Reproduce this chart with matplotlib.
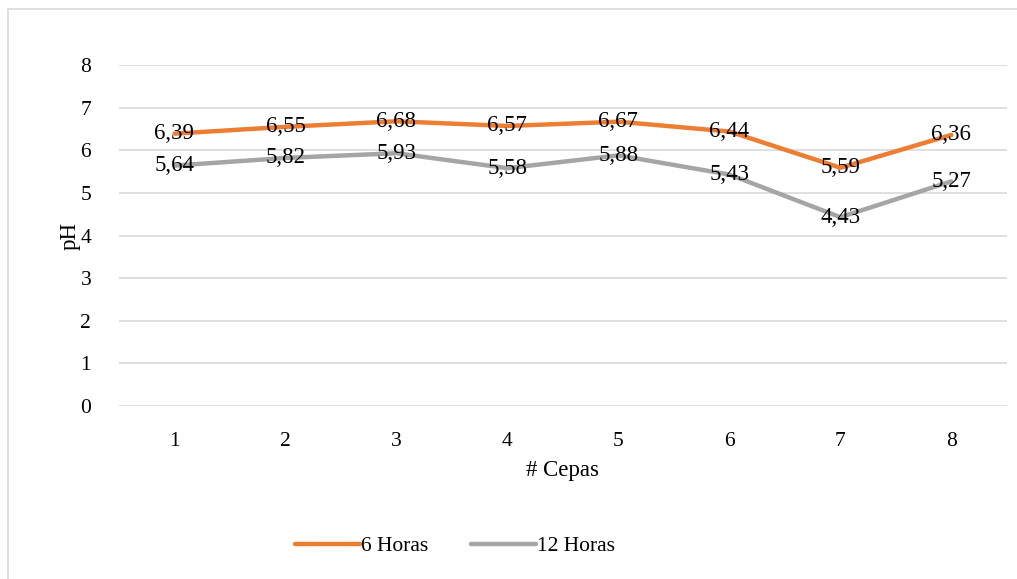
import matplotlib.pyplot as plt
from matplotlib.patches import Rectangle

plt.rcParams['font.family'] = ['Liberation Serif', 'DejaVu Serif']

cepas = [1, 2, 3, 4, 5, 6, 7, 8]
horas_6 = [6.39, 6.55, 6.68, 6.57, 6.67, 6.44, 5.59, 6.36]
horas_12 = [5.64, 5.82, 5.93, 5.58, 5.88, 5.43, 4.43, 5.27]

fig = plt.figure(figsize=(10.17, 5.79), dpi=100)
ax = fig.add_axes([0.117, 0.2988, 0.873, 0.5889])

# outer chart border
fig.patches.append(Rectangle((8 / 1017, -0.01), 1.1, 1 - 9 / 579 + 0.01,
                             transform=fig.transFigure, fill=False,
                             edgecolor='#D9D9D9', linewidth=1.2))

ax.plot(cepas, horas_6, color='#ED7D31', linewidth=3.2, label='6 Horas',
        solid_capstyle='round', zorder=3)
ax.plot(cepas, horas_12, color='#A5A5A5', linewidth=3.2, label='12 Horas',
        solid_capstyle='round', zorder=3)

for x, y in zip(cepas, horas_6):
    ax.text(x, y, f'{y:.2f}'.replace('.', ','), ha='center', va='center',
            fontsize=16.5, zorder=4)
for x, y in zip(cepas, horas_12):
    ax.text(x, y, f'{y:.2f}'.replace('.', ','), ha='center', va='center',
            fontsize=16.5, zorder=4)

ax.set_xlim(0.5, 8.5)
ax.set_ylim(0, 8)
ax.set_xticks(cepas)
ax.set_yticks(range(0, 9))
ax.grid(axis='y', color='#D9D9D9', linewidth=1.2)
ax.set_axisbelow(True)
for s in ax.spines.values():
    s.set_visible(False)
ax.tick_params(length=0, labelsize=15.5, pad=19)
ax.tick_params(axis='y', pad=20)
ax.set_ylabel('pH', fontsize=16.5, labelpad=0)
ax.set_xlabel('# Cepas', fontsize=16.5, labelpad=6)

ax.legend(loc='center', bbox_to_anchor=(455 / 1017, 1 - 546 / 579),
          bbox_transform=fig.transFigure, ncol=2, frameon=False, fontsize=15.5,
          handlelength=3.0, handletextpad=0.05, columnspacing=2.0)

fig.savefig('out.png', dpi=100)
